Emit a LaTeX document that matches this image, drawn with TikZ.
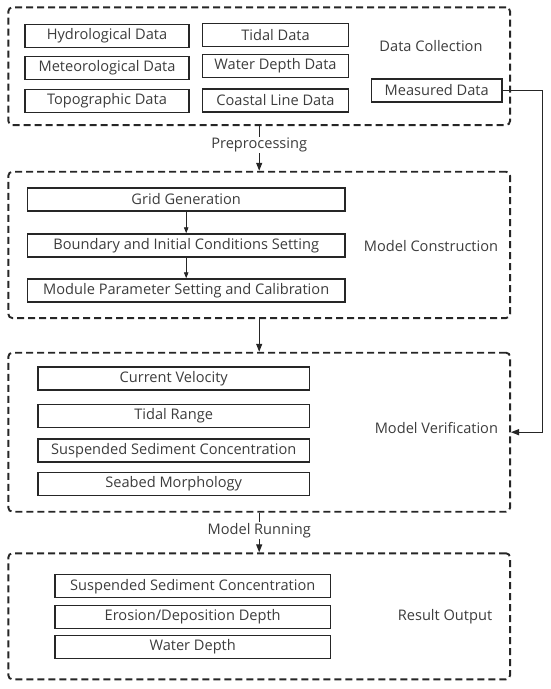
\documentclass[tikz,border=0pt]{standalone}
\usepackage{fontspec}
\setmainfont{Open Sans}
\usetikzlibrary{arrows.meta,positioning}

\definecolor{ink}{HTML}{262626}
\definecolor{txt}{HTML}{3C3C3C}

\tikzset{
  group/.style={draw=ink, line width=1.9pt, dash pattern=on 7pt off 4pt, rounded corners=4pt, inner sep=0pt},
  item/.style={draw=ink, line width=1.4pt, text=txt, inner sep=0pt, minimum height=23pt},
  tag/.style={text=txt, inner sep=1pt},
  flow/.style={draw=ink, line width=1.2pt, -{Triangle[length=8pt,width=6pt]}},
  sub/.style={draw=ink, line width=0.8pt, -{Triangle[length=6pt,width=4.5pt]}},
}

\begin{document}
\begin{tikzpicture}[x=1pt, y=-1pt, font=\fontsize{14.6}{17}\selectfont]
\useasboundingbox (0,0) rectangle (550,689);
% dashed groups
\node[group, minimum width=501.7pt, minimum height=117.7pt] (collect) at (259.2,66.2) {};
\node[group, minimum width=501.7pt, minimum height=146.3pt] (construct) at (259.2,244.9) {};
\node[group, minimum width=501.7pt, minimum height=159pt] (verify) at (259.2,432.2) {};
\node[group, minimum width=501.7pt, minimum height=126pt] (output) at (259.2,616.3) {};

% data collection
\node[item, minimum width=164pt] (hydro) at (107,36) {Hydrological Data};
\node[item, minimum width=164pt] (meteo) at (107,67.8) {Meteorological Data};
\node[item, minimum width=164pt] (topo)  at (107,101) {Topographic Data};
\node[item, minimum width=145.6pt] (tidal) at (275.5,35) {Tidal Data};
\node[item, minimum width=145.6pt] (depth) at (275.5,66) {Water Depth Data};
\node[item, minimum width=145.6pt] (coast) at (275.5,100.5) {Coastal Line Data};
\node[item, minimum width=130.5pt] (measured) at (436.7,90.3) {Measured Data};
\node[tag] (collectlab) at (431,45.7) {Data Collection};

% model construction
\node[item, minimum width=317.7pt] (grid)   at (186.2,199.5) {Grid Generation};
\node[item, minimum width=317.7pt] (bound)  at (186.2,245.5) {Boundary and Initial Conditions Setting};
\node[item, minimum width=317.7pt] (module) at (186.2,290.5) {Module Parameter Setting and Calibration};
\node[tag] (constructlab) at (431,245.7) {Model Construction};
\draw[sub] (grid) -- (bound);
\draw[sub] (bound) -- (module);

% model verification
\node[item, minimum width=271.6pt] (velo)   at (173.7,378.3) {Current Velocity};
\node[item, minimum width=271.6pt] (range)  at (173.7,415.8) {Tidal Range};
\node[item, minimum width=271.6pt] (ssc)    at (173.7,450.3) {Suspended Sediment Concentration};
\node[item, minimum width=271.6pt] (seabed) at (173.7,484) {Seabed Morphology};
\node[tag] (verifylab) at (436.4,428.3) {Model Verification};

% result output
\node[item, minimum width=275.5pt] (outssc)   at (192.7,586.2) {Suspended Sediment Concentration};
\node[item, minimum width=275.5pt] (erosion)  at (192.7,616.7) {Erosion/Deposition Depth};
\node[item, minimum width=275.5pt] (outdepth) at (192.7,646.7) {Water Depth};
\node[tag] (outputlab) at (445,616.7) {Result Output};

% flow between groups
\draw[flow] (collect) -- node[tag, fill=white, pos=0.42] {Preprocessing} (construct);
\draw[flow] (construct) -- (verify);
\draw[flow] (verify) -- node[tag, fill=white, pos=0.45] {Model Running} (output);
\draw[flow] (measured.east) -- ++(40,0) |- (verify.east);
\end{tikzpicture}
\end{document}
